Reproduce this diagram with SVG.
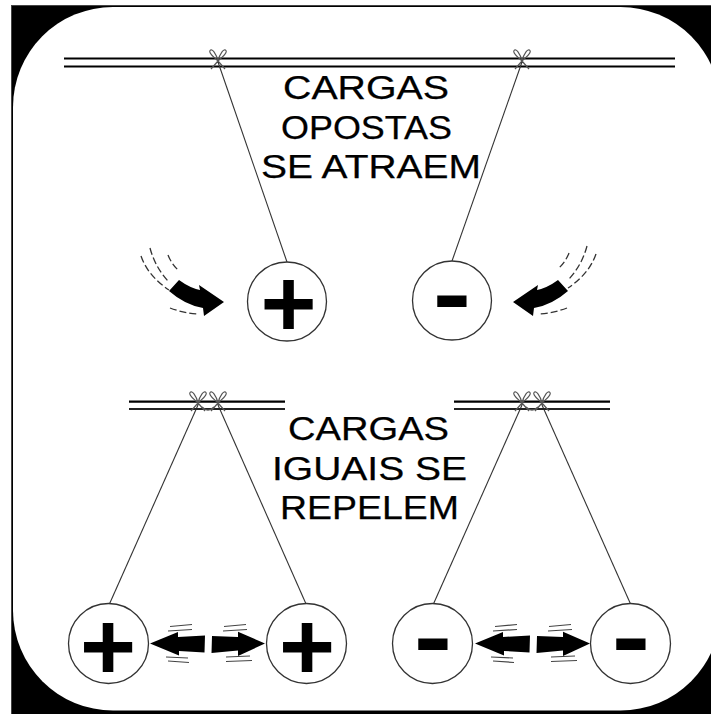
<svg xmlns="http://www.w3.org/2000/svg" xmlns:xlink="http://www.w3.org/1999/xlink" width="711" height="714" viewBox="0 0 711 714">
<style>
.bar{stroke:#000;stroke-width:2.2;fill:none}
.bar2{stroke:#222;stroke-width:2;fill:none}
.str{stroke:#333;stroke-width:1.1;fill:none}
.ball{fill:#fff;stroke:#333;stroke-width:1.3}
.sign{font-family:"Liberation Sans",Arial,sans-serif;font-weight:bold;font-size:96px;fill:#000;text-anchor:middle}
.lbl{font-family:"Liberation Sans",Arial,sans-serif;font-size:33px;fill:#000;stroke:#000;stroke-width:0.25}
.arr{fill:#000}
.dash{stroke:#333;stroke-width:1.3;fill:none;stroke-dasharray:7 3}
.mot{stroke:#444;stroke-width:1.2;fill:none}
.bow{stroke:#555;stroke-width:1.2;fill:none}
</style>
<defs>
<g id="bowk">
<path class="bow" d="M0,0 C-4,-4 -10,-8 -8,-10.5 C-6,-13 -2,-8 0,0 C2,-8 6,-13 8,-10.5 C10,-8 4,-4 0,0 M0,0 L-7,8 M0,0 L7,8"/>
</g>
<path id="curvarr" d="M169,291 L179,280 Q190,288 200,290 L199,285 L224,302 L204,316 L203,308 Q185,305 169,291 Z"/>
<path id="dbl" d="M150,643.5 L178,632 L178,637 L205,635.5 L204.5,652.5 L179,651 L179,655.5 Z M265,643.5 L238,631.7 L238,637 L212,636 L211.5,653 L238,650.5 L238,656 Z"/>
<path id="mots" d="M170,626.5 L192,624.5 M168,631 L192,629.5 M166,657 L188,658 M168,661 L189,662.5 M224,626.5 L246,624.5 M223,631 L247,629.5 M226,657 L250,656 M226,661.5 L252,660.5"/>
</defs>
<rect x="11.5" y="5.5" width="705" height="712" fill="#000" stroke="#444" stroke-width="1"/>
<rect x="13" y="7" width="707.5" height="703.5" rx="100" ry="100" fill="#fff"/>

<g id="top-bar">
<line class="bar" x1="64" y1="58.5" x2="675" y2="58.5"/>
<line class="bar" x1="64" y1="66.5" x2="675" y2="66.5"/>
<use xlink:href="#bowk" href="#bowk" x="218" y="61"/>
<use xlink:href="#bowk" href="#bowk" x="522" y="61"/>
</g>

<g id="connectors">
<line class="str" x1="218" y1="62" x2="287" y2="262"/>
<line class="str" x1="522" y1="62" x2="452" y2="261"/>
<line class="str" x1="198" y1="405" x2="109" y2="605"/>
<line class="str" x1="218" y1="405" x2="306.5" y2="605"/>
<line class="str" x1="522" y1="405" x2="433" y2="605"/>
<line class="str" x1="542" y1="405" x2="631" y2="605"/>
</g>

<g id="label-top">
<text class="lbl" x="283" y="98.5" textLength="166" lengthAdjust="spacingAndGlyphs">CARGAS</text>
<text class="lbl" x="281" y="138.5" textLength="171" lengthAdjust="spacingAndGlyphs">OPOSTAS</text>
<text class="lbl" x="261" y="178" textLength="220" lengthAdjust="spacingAndGlyphs">SE ATRAEM</text>
</g>

<g id="ball-top-plus">
<circle class="ball" cx="287" cy="301.5" r="39.5"/>
<text class="sign" x="288.5" y="337">+</text>
</g>
<g id="ball-top-minus">
<circle class="ball" cx="452" cy="300.5" r="39.5"/>
<text class="sign" transform="translate(452,0) scale(1.2,1)" x="0" y="326">-</text>
</g>

<g id="arrow-top-left">
<use xlink:href="#curvarr" href="#curvarr" class="arr"/>
<path class="dash" d="M141,256 Q148,276 169,290"/>
<path class="dash" d="M150,248 Q155,267 168,281"/>
<path class="dash" d="M168,255 Q171,263 178,270"/>
<path class="dash" d="M170,308 Q183,313 198,314"/>
</g>
<g id="arrow-top-right" transform="translate(737,0) scale(-1,1)">
<use xlink:href="#curvarr" href="#curvarr" class="arr"/>
<path class="dash" d="M141,254 Q148,274 169,288"/>
<path class="dash" d="M150,246 Q155,265 168,279"/>
<path class="dash" d="M168,253 Q171,261 178,268"/>
<path class="dash" d="M170,308 Q183,313 198,314"/>
</g>

<g id="bottom-left-bar">
<line class="bar" x1="129" y1="401.7" x2="285" y2="401.7"/>
<line class="bar2" x1="129" y1="409" x2="285" y2="409"/>
<use xlink:href="#bowk" href="#bowk" x="198" y="403"/>
<use xlink:href="#bowk" href="#bowk" x="218" y="403"/>
<path class="bow" d="M202,407 Q208,413 214,407"/>
</g>
<g id="bottom-right-bar">
<line class="bar" x1="454" y1="401.7" x2="610" y2="401.7"/>
<line class="bar2" x1="454" y1="409" x2="610" y2="409"/>
<use xlink:href="#bowk" href="#bowk" x="522" y="403"/>
<use xlink:href="#bowk" href="#bowk" x="542" y="403"/>
<path class="bow" d="M526,407 Q532,413 538,407"/>
</g>

<g id="label-bottom">
<text class="lbl" x="288" y="440" textLength="161" lengthAdjust="spacingAndGlyphs">CARGAS</text>
<text class="lbl" x="272" y="480" textLength="195" lengthAdjust="spacingAndGlyphs">IGUAIS SE</text>
<text class="lbl" x="280" y="518.5" textLength="179" lengthAdjust="spacingAndGlyphs">REPELEM</text>
</g>

<g id="ball-bl-plus">
<circle class="ball" cx="108.5" cy="643.5" r="40"/>
<text class="sign" x="108" y="680">+</text>
</g>
<g id="ball-bl2-plus">
<circle class="ball" cx="306.5" cy="643.5" r="40"/>
<text class="sign" x="307" y="680">+</text>
</g>
<g id="ball-br-minus">
<circle class="ball" cx="432.5" cy="643.5" r="40"/>
<text class="sign" transform="translate(433,0) scale(1.2,1)" x="0" y="669">-</text>
</g>
<g id="ball-br2-minus">
<circle class="ball" cx="630.5" cy="643.5" r="40"/>
<text class="sign" transform="translate(631,0) scale(1.2,1)" x="0" y="669">-</text>
</g>

<g id="arrows-bottom-left">
<use xlink:href="#dbl" href="#dbl" class="arr"/>
<use xlink:href="#mots" href="#mots" class="mot"/>
</g>
<g id="arrows-bottom-right" transform="translate(325,0)">
<use xlink:href="#dbl" href="#dbl" class="arr"/>
<use xlink:href="#mots" href="#mots" class="mot"/>
</g>
</svg>
